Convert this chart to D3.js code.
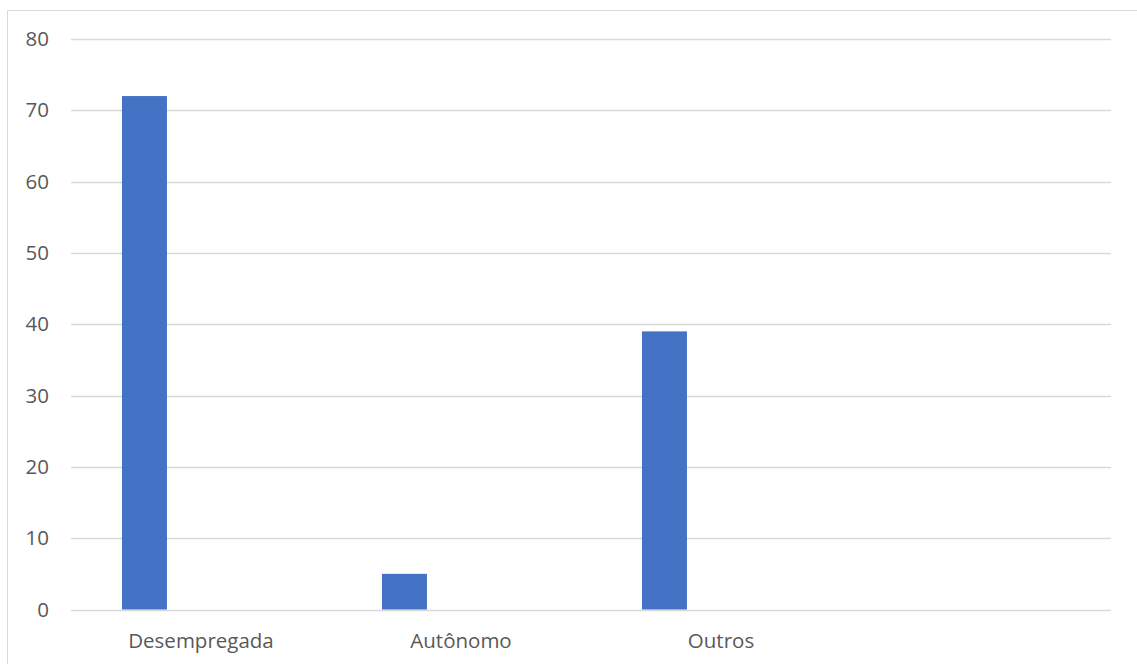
<!DOCTYPE html>
<html><head><meta charset="utf-8">
<script src="https://cdn.jsdelivr.net/npm/d3@7"></script>
<style>
html,body{margin:0;padding:0;background:#fff;}
svg{display:block;}
text{font-family:"Open Sans","Noto Sans",sans-serif;fill:#595959;}
</style></head>
<body>
<svg id="chart" width="1137" height="664"></svg>
<script>
const categories = ["Desempregada", "Autônomo", "Outros", ""];
const values = [72, 5, 39, null];
const yTicks = [0, 10, 20, 30, 40, 50, 60, 70, 80];

(function () {
const svg = d3.select("#chart");
const W = 1137, H = 664;
const mLeft = 71, mRight = 1111, mTop = 39, mBottom = 609.5;

svg.append("rect").attr("x", 7.5).attr("y", 10.5).attr("width", W + 10).attr("height", H + 10)
  .attr("fill", "#fff").attr("stroke", "#d9d9d9").attr("stroke-width", 1);

const y = d3.scaleLinear().domain([0, 80]).range([mBottom, mTop]);
const xCat = d3.scaleBand().domain(categories).range([mLeft, mRight]).padding(0);
const xBar = d3.scaleBand().domain(categories).range([mLeft, mRight])
  .paddingInner(0.827).paddingOuter(0.4135).align(0.237);

svg.append("g").selectAll("line").data(yTicks).join("line")
  .attr("x1", mLeft).attr("x2", mRight)
  .attr("y1", d => Math.round(y(d)) + 0.5).attr("y2", d => Math.round(y(d)) + 0.5)
  .attr("stroke", "#d9d9d9").attr("stroke-width", 1.3);

svg.append("g").selectAll("text").data(yTicks).join("text")
  .attr("x", 49).attr("y", d => y(d)).attr("dy", "0.35em")
  .attr("text-anchor", "end").attr("font-size", 20.5).text(d => d);

const data = categories.map((c, i) => ({c, v: values[i]})).filter(d => d.v != null);
svg.append("g").selectAll("rect").data(data).join("rect")
  .attr("x", d => xBar(d.c)).attr("width", xBar.bandwidth())
  .attr("y", d => y(d.v)).attr("height", d => y(0) - y(d.v))
  .attr("fill", "#4472c4");

svg.append("g").selectAll("text").data(categories).join("text")
  .attr("x", d => xCat(d) + xCat.bandwidth() / 2).attr("y", 648)
  .attr("text-anchor", "middle").attr("font-size", 20.5).text(d => d);
})();
</script>
</body></html>
